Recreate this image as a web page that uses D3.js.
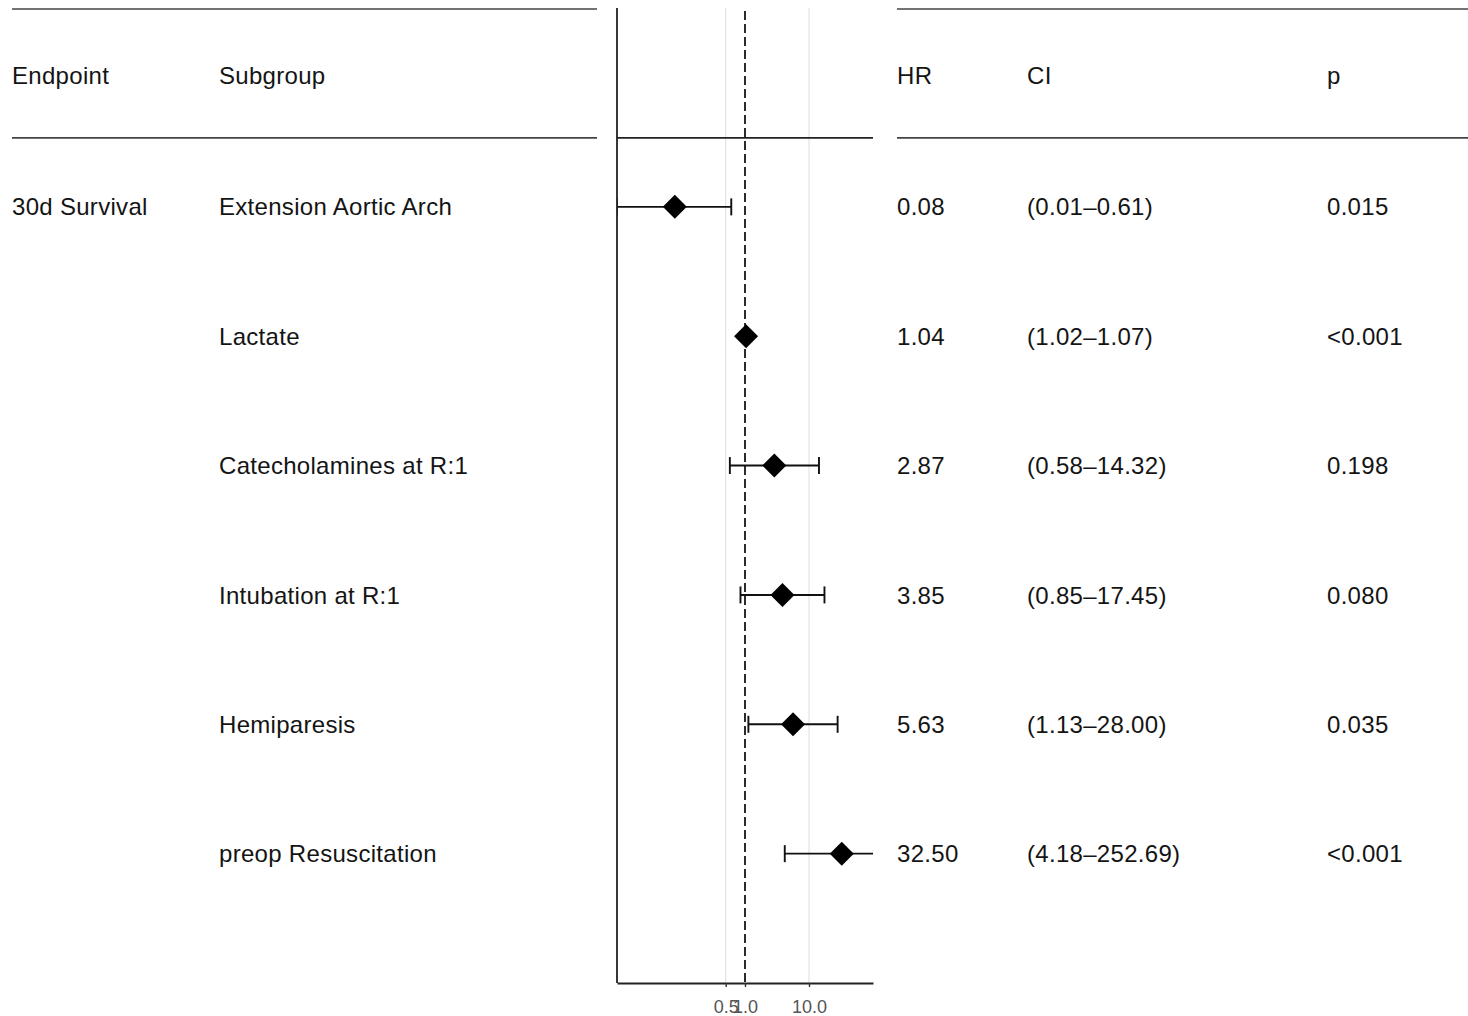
<!DOCTYPE html>
<html>
<head>
<meta charset="utf-8">
<script src="https://cdn.jsdelivr.net/npm/d3@7"></script>
<style>
  html, body { margin: 0; padding: 0; background: #fff; }
  svg { display: block; font-family: "Liberation Sans", Arial, sans-serif; }
</style>
</head>
<body>
<svg id="chart" width="1468" height="1016"></svg>
<script>
// Cox model results, 30-day survival
const endpoints  = ["30d Survival", "", "", "", "", ""];
const subgroups  = ["Extension Aortic Arch", "Lactate", "Catecholamines at R:1",
                    "Intubation at R:1", "Hemiparesis", "preop Resuscitation"];
const hr         = [0.08, 1.04, 2.87, 3.85, 5.63, 32.50];
const ciLow      = [0.01, 1.02, 0.58, 0.85, 1.13, 4.18];
const ciHigh     = [0.61, 1.07, 14.32, 17.45, 28.00, 252.69];
const pValues    = ["0.015", "<0.001", "0.198", "0.080", "0.035", "<0.001"];
const tickValues = [0.5, 1, 10];
const tickLabels = ["0.5", "1.0", "10.0"];

const fmt2 = d3.format(".2f");

const svg = d3.select("#chart");
const fontSize = 24;
const letterSp = "0.3px";
const textColor = "#141414";
const ruleColor = "#444";
const headerShift = -2;

// row positions: 0 = header, 1..6 = data rows, 7 = axis baseline
const y = d3.scaleLinear().domain([0, 7]).range([77.5, 983]);
const yTop = 8;

// forest plot x scale
const x = d3.scaleLog().domain([0.01, 100]).range([617, 873]);

function cell(g, cls, data, xPos, rowFn, textFn) {
  return g.selectAll("text." + cls).data(data).join("text").attr("class", cls)
    .attr("x", xPos).attr("y", rowFn).attr("dy", "0.36em")
    .attr("font-size", fontSize).attr("letter-spacing", letterSp)
    .attr("fill", textColor).text(textFn);
}

// ---- left table ----
const left = svg.append("g");
const leftCols = [12, 219];
[y(-0.53), y(0.467)].forEach(yy => {
  left.append("line").attr("x1", 12).attr("x2", 597).attr("y1", yy).attr("y2", yy)
    .attr("stroke", ruleColor).attr("stroke-width", 1.6);
});
cell(left, "hd", ["Endpoint", "Subgroup"], (d, j) => leftCols[j], () => y(0) + headerShift, d => d);
cell(left, "ep", endpoints, leftCols[0], (d, i) => y(i + 1), d => d);
cell(left, "sg", subgroups, leftCols[1], (d, i) => y(i + 1), d => d);

// ---- right table ----
const right = svg.append("g");
const rightCols = [897, 1027, 1327];
[y(-0.53), y(0.467)].forEach(yy => {
  right.append("line").attr("x1", 897).attr("x2", 1468).attr("y1", yy).attr("y2", yy)
    .attr("stroke", ruleColor).attr("stroke-width", 1.6);
});
cell(right, "hd", ["HR", "CI", "p"], (d, j) => rightCols[j], () => y(0) + headerShift, d => d);
cell(right, "hr", hr, rightCols[0], (d, i) => y(i + 1), d => fmt2(d));
cell(right, "ci", hr, rightCols[1], (d, i) => y(i + 1),
  (d, i) => `(${fmt2(ciLow[i])}\u2013${fmt2(ciHigh[i])})`);
cell(right, "p", pValues, rightCols[2], (d, i) => y(i + 1), d => d);

// ---- forest plot ----
const plot = svg.append("g");
const [xl, xr] = x.range();

svg.append("defs").append("clipPath").attr("id", "plot-clip")
  .append("rect").attr("x", xl).attr("y", yTop).attr("width", xr - xl).attr("height", y(7) - yTop);

// light grid at the labelled ticks (except the reference line)
plot.selectAll("line.grid").data(tickValues.filter(v => v !== 1)).join("line")
  .attr("class", "grid")
  .attr("x1", d => x(d)).attr("x2", d => x(d))
  .attr("y1", yTop).attr("y2", y(7))
  .attr("stroke", "#e3e3e3").attr("stroke-width", 1.2);

// header rule inside plot
plot.append("line").attr("x1", xl).attr("x2", xr)
  .attr("y1", y(0.467)).attr("y2", y(0.467))
  .attr("stroke", "#222").attr("stroke-width", 1.6);

// reference line at HR = 1
plot.append("line").attr("x1", x(1)).attr("x2", x(1))
  .attr("y1", yTop + 3).attr("y2", y(7))
  .attr("stroke", "#222").attr("stroke-width", 1.9)
  .attr("stroke-dasharray", "9,4");

// confidence intervals
const marks = plot.append("g").attr("clip-path", "url(#plot-clip)");
const rows = d3.range(hr.length);
const capH = 8.5;
const barW = 1.9;
marks.selectAll("line.ci").data(rows).join("line").attr("class", "ci")
  .attr("x1", i => x(ciLow[i])).attr("x2", i => x(ciHigh[i]))
  .attr("y1", i => y(i + 1)).attr("y2", i => y(i + 1))
  .attr("stroke", "#111").attr("stroke-width", barW);
marks.selectAll("line.capl").data(rows).join("line").attr("class", "capl")
  .attr("x1", i => x(ciLow[i])).attr("x2", i => x(ciLow[i]))
  .attr("y1", i => y(i + 1) - capH).attr("y2", i => y(i + 1) + capH)
  .attr("stroke", "#111").attr("stroke-width", barW);
marks.selectAll("line.caph").data(rows).join("line").attr("class", "caph")
  .attr("x1", i => x(ciHigh[i])).attr("x2", i => x(ciHigh[i]))
  .attr("y1", i => y(i + 1) - capH).attr("y2", i => y(i + 1) + capH)
  .attr("stroke", "#111").attr("stroke-width", barW);

// point estimates as diamonds
const dz = 12;
marks.selectAll("path.est").data(rows).join("path").attr("class", "est")
  .attr("d", i => {
    const cx = x(hr[i]), cy = y(i + 1);
    return `M${cx},${cy - dz}L${cx + dz},${cy}L${cx},${cy + dz}L${cx - dz},${cy}Z`;
  })
  .attr("fill", "#000");

// left frame line
plot.append("line").attr("x1", xl).attr("x2", xl)
  .attr("y1", yTop).attr("y2", y(7))
  .attr("stroke", "#222").attr("stroke-width", 1.8);

// bottom axis
const axis = d3.axisBottom(x)
  .tickValues(tickValues)
  .tickFormat((d, i) => tickLabels[i])
  .tickSize(4).tickSizeOuter(0);
const ax = plot.append("g").attr("transform", `translate(0,${y(7)})`).call(axis);
ax.select(".domain").attr("stroke", "#222").attr("stroke-width", 1.8);
ax.selectAll(".tick line").attr("stroke", "#333").attr("stroke-width", 1.4);
ax.selectAll(".tick text").attr("fill", "#555").attr("font-size", 18)
  .attr("font-family", "Liberation Sans, Arial, sans-serif")
  .attr("y", 30).attr("dy", 0);
</script>
</body>
</html>
